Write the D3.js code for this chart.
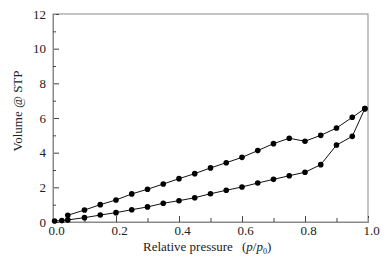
<!DOCTYPE html>
<html>
<head>
<meta charset="utf-8">
<script src="https://cdn.jsdelivr.net/npm/d3@7"></script>
<style>
  body { margin: 0; background: #fff; }
</style>
</head>
<body>
<svg></svg>
<script>
// adsorption branch (lower)
const pressureAds = [0.005, 0.028, 0.047, 0.1, 0.15, 0.2, 0.25, 0.3, 0.35, 0.4, 0.45, 0.5, 0.55, 0.6, 0.65, 0.7, 0.75, 0.8, 0.85, 0.9, 0.95, 0.99];
const volumeAds = [0.06, 0.08, 0.12, 0.25, 0.40, 0.54, 0.71, 0.87, 1.08, 1.23, 1.40, 1.63, 1.83, 2.02, 2.25, 2.46, 2.67, 2.87, 3.31, 4.44, 4.94, 6.54];
// desorption branch (upper)
const pressureDes = [0.99, 0.95, 0.9, 0.85, 0.8, 0.75, 0.7, 0.65, 0.6, 0.55, 0.5, 0.45, 0.4, 0.35, 0.3, 0.25, 0.2, 0.15, 0.1, 0.047];
const volumeDes = [6.54, 6.04, 5.42, 5.0, 4.66, 4.83, 4.52, 4.12, 3.73, 3.42, 3.12, 2.79, 2.50, 2.19, 1.89, 1.62, 1.27, 1.0, 0.69, 0.39];

const xTicks = [0, 0.2, 0.4, 0.6, 0.8, 1.0];
const xMinor = [0.1, 0.3, 0.5, 0.7, 0.9];
const yTicks = [0, 2, 4, 6, 8, 10, 12];
const yMinor = [1, 3, 5, 7, 9, 11];

const serif = '"Liberation Serif", "Times New Roman", serif';

const available = { width: 391, height: 262 };
const margins = { top: 14, right: 23, bottom: 40, left: 53 };
const width = available.width - margins.left - margins.right;
const height = available.height - margins.top - margins.bottom;

const xScale = d3.scaleLinear().domain([0, 1]).range([0, width]);
const yScale = d3.scaleLinear().domain([0, 12]).range([height, 0]);

const svg = d3.select('svg')
  .attr('width', available.width)
  .attr('height', available.height)
  .attr('font-family', serif);

const chartG = svg.append('g')
  .attr('transform', `translate(${margins.left}, ${margins.top})`);

// frame
chartG.append('rect')
  .attr('width', width)
  .attr('height', height)
  .attr('fill', 'none')
  .attr('stroke', '#8a8a8a')
  .attr('stroke-width', 1);

const xAxis = chartG.append('g')
  .attr('transform', `translate(0, ${height})`)
  .call(d3.axisBottom(xScale).tickValues(xTicks).tickFormat(d3.format('.1f')).tickSize(-6).tickPadding(4));
chartG.append('g')
  .attr('transform', `translate(0, ${height})`)
  .call(d3.axisBottom(xScale).tickValues(xMinor).tickFormat('').tickSize(-4));

const yAxis = chartG.append('g')
  .call(d3.axisLeft(yScale).tickValues(yTicks).tickFormat(d3.format('d')).tickSize(-6).tickPadding(7));
chartG.append('g')
  .call(d3.axisLeft(yScale).tickValues(yMinor).tickFormat('').tickSize(-3));

chartG.selectAll('g').attr('font-family', serif).attr('font-size', 13);
chartG.selectAll('.domain').attr('stroke', '#8a8a8a');
chartG.selectAll('.tick line').attr('stroke', '#444');
chartG.selectAll('.tick text').attr('fill', '#222');
xAxis.selectAll('.tick text').attr('dx', 3);

const line = d3.line()
  .x(function(d) { return xScale(d[0]); })
  .y(function(d) { return yScale(d[1]); });

const series = [
  d3.zip(pressureAds, volumeAds),
  d3.zip(pressureDes, volumeDes)
];

series.forEach(function(pts) {
  chartG.append('path')
    .datum(pts)
    .attr('fill', 'none')
    .attr('stroke', '#111')
    .attr('stroke-width', 1)
    .attr('d', line);
  chartG.selectAll(null)
    .data(pts)
    .enter()
    .append('circle')
    .attr('cx', function(d) { return xScale(d[0]); })
    .attr('cy', function(d) { return yScale(d[1]); })
    .attr('r', 2.8)
    .attr('fill', '#000');
});

// axis titles
const xTitle = svg.append('text')
  .attr('x', 143)
  .attr('y', 251)
  .attr('fill', '#222')
  .attr('font-size', 13);
xTitle.append('tspan').text('Relative pressure');
xTitle.append('tspan').attr('x', 242).text('(');
xTitle.append('tspan').attr('font-style', 'italic').text('p');
xTitle.append('tspan').text('/');
xTitle.append('tspan').attr('font-style', 'italic').text('p');
xTitle.append('tspan').attr('dy', 3).attr('font-size', 8).text('0');
xTitle.append('tspan').attr('dy', -3).text(')');

svg.append('text')
  .attr('transform', 'translate(22, 111) rotate(-90)')
  .attr('text-anchor', 'middle')
  .attr('fill', '#222')
  .attr('font-size', 13)
  .text('Volume @ STP');
</script>
</body>
</html>
